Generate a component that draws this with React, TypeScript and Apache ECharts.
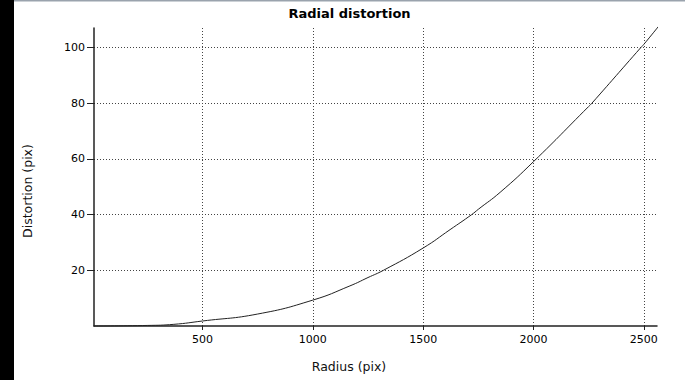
import React, { useEffect, useRef } from "react";
import * as echarts from "echarts";

const radius = [8, 250, 370, 500, 750, 1000, 1168, 1250, 1320, 1500, 1622, 1720, 1750, 1849, 2000, 2250, 2265, 2487, 2500, 2566];
const distortion = [0, 0.2, 0.6, 1.8, 4.3, 9.3, 14.4, 17.4, 20, 28, 34.6, 40, 41.9, 48, 59, 78.8, 80, 100, 101.1, 107.5];
const xTicks = [500, 1000, 1500, 2000, 2500];
const yTicks = [20, 40, 60, 80, 100];
const titleText = "Radial distortion";
const xName = "Radius (pix)";
const yName = "Distortion (pix)";

export default function App() {
  const ref = useRef<HTMLDivElement>(null);
  useEffect(() => {
    document.body.style.margin = "0";
    const chart = echarts.init(ref.current!, null, { renderer: "svg" });
    const font = '"DejaVu Sans", sans-serif';
    const split = { show: true, lineStyle: { color: "#444", type: [1, 2], width: 1 } };
    chart.setOption({
      animation: false,
      backgroundColor: "#fff",
      grid: { left: 94, right: 28, top: 28, bottom: 54, containLabel: false },
      xAxis: {
        type: "value",
        min: 8,
        max: 2560,
        axisLine: { show: true, lineStyle: { color: "#222", width: 1.5 } },
        axisTick: { show: true, length: 4, customValues: xTicks, lineStyle: { color: "#222" } },
        axisLabel: {
          customValues: xTicks,
          formatter: (v: number) => String(v),
          color: "#000",
          fontFamily: font,
          fontSize: 11,
          margin: 8,
        },
        splitLine: { ...split, customValues: xTicks },
      },
      yAxis: {
        type: "value",
        min: 0,
        max: 107,
        axisLine: { show: true, lineStyle: { color: "#222", width: 1.5 } },
        axisTick: { show: true, length: 7, customValues: yTicks, lineStyle: { color: "#222" } },
        axisLabel: {
          customValues: yTicks,
          formatter: (v: number) => String(v),
          color: "#000",
          fontFamily: font,
          fontSize: 11,
          margin: 9,
        },
        splitLine: { ...split, customValues: yTicks },
      },
      series: [
        {
          type: "line",
          data: radius.map((r, i) => [r, distortion[i]]),
          showSymbol: false,
          smooth: true,
          lineStyle: { color: "#222", width: 1 },
          clip: false,
        },
      ],
      graphic: [
        { type: "rect", z: 100, shape: { x: 14, y: 0, width: 671, height: 1.5 }, style: { fill: "#9aa3ad" } },
        { type: "rect", z: 100, shape: { x: 0, y: 0, width: 14, height: 380 }, style: { fill: "#000000" } },
        {
          type: "text",
          x: 349.5,
          y: 13,
          style: { text: titleText, font: "bold 13px " + font, fill: "#000", align: "center", verticalAlign: "middle" },
        },
        {
          type: "text",
          x: 349,
          y: 366,
          style: { text: xName, font: "12.5px " + font, fill: "#111", align: "center", verticalAlign: "middle" },
        },
        {
          type: "text",
          x: 27.5,
          y: 191,
          rotation: Math.PI / 2,
          style: { text: yName, font: "12.5px " + font, fill: "#111", align: "center", verticalAlign: "middle" },
        },
      ],
    });
    return () => chart.dispose();
  }, []);
  return (
    <div style={{ position: "absolute", left: 0, top: 0, width: 685, height: 380 }}>
      <div ref={ref} style={{ position: "absolute", left: 0, top: 0, width: 685, height: 380 }} />
      <div
        style={{ position: "absolute", left: 0, top: 0, width: 14, height: 380, background: "#000", zIndex: 10 }}
      />
    </div>
  );
}
